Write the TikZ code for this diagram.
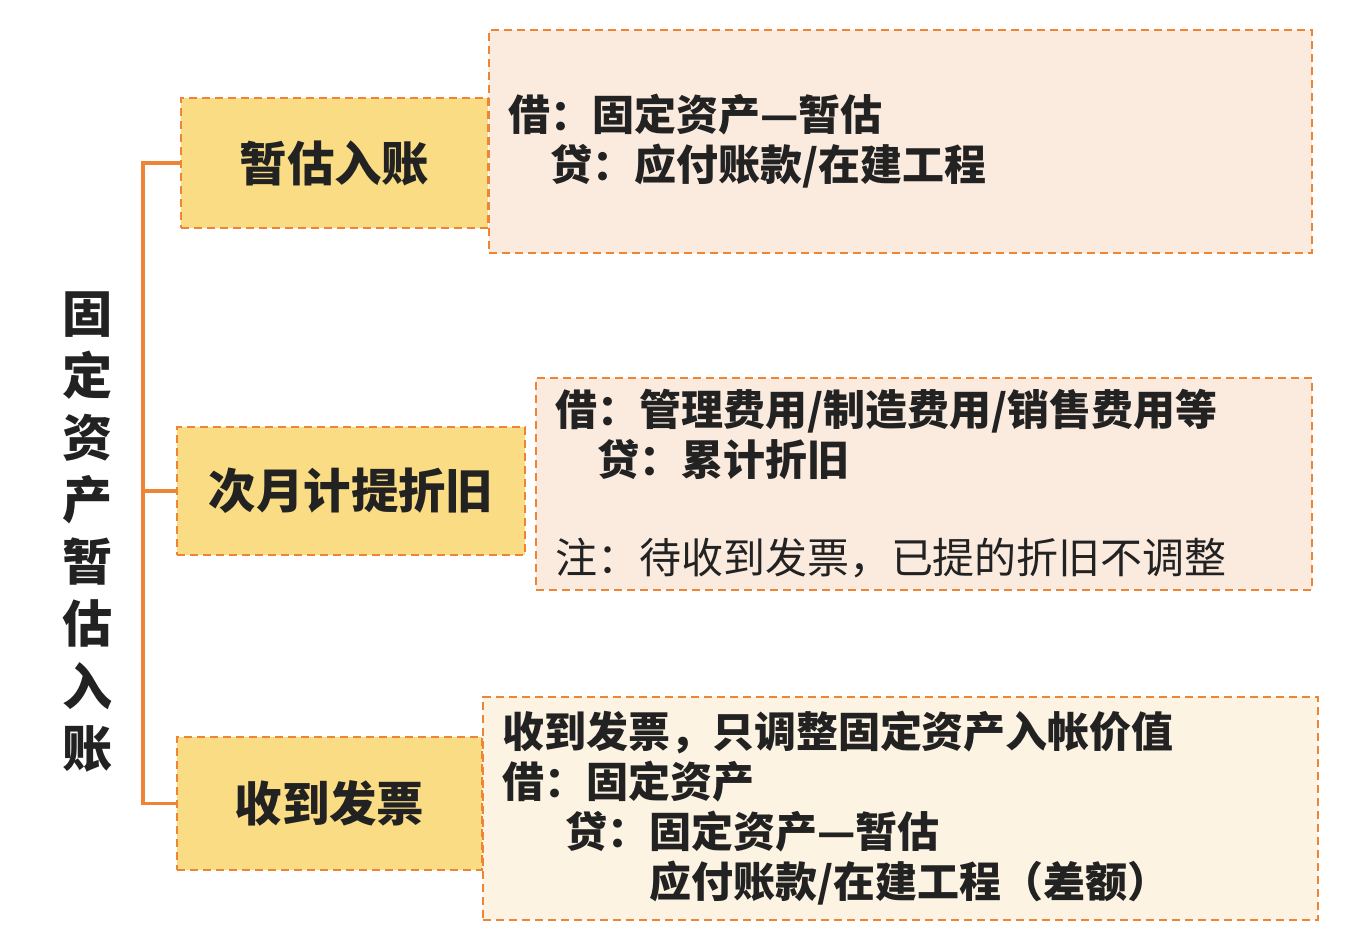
\documentclass[tikz,border=0pt]{standalone}
\usepackage{fontspec}
\setmainfont{Noto Sans CJK SC}
\definecolor{lineorange}{HTML}{EE8535}
\definecolor{boxyellow}{HTML}{F9DC84}
\definecolor{notepeach}{HTML}{FBEBDF}
\definecolor{notecream}{HTML}{FDF3E2}
\definecolor{inkgray}{HTML}{222222}
\tikzset{
  dashedge/.style={draw=lineorange, line width=1.6pt, dash pattern=on 0.16cm off 0.1cm},
  headbox/.style={dashedge, fill=boxyellow, text=inkgray, inner sep=0pt,
    font=\fontsize{27}{32}\selectfont\bfseries},
  notebox/.style={dashedge, text=inkgray, align=left, inner xsep=0.38cm, inner ysep=0pt,
    font=\fontsize{23.9}{28.45}\selectfont\bfseries},
  link/.style={draw=lineorange, line width=2pt}
}
\begin{document}
\begin{tikzpicture}[x=0.02cm, y=-0.02cm]
  \useasboundingbox (0,0) rectangle (1349,947);
  % title
  \node[text=inkgray, align=center, font=\fontsize{28.5}{35.3}\selectfont\bfseries]
    (title) at (88,532) {固\\定\\资\\产\\暂\\估\\入\\账};
  % left boxes
  \node[headbox, minimum width=6.14cm, minimum height=2.6cm] (est) at (334.5,163) {暂估入账};
  \node[headbox, minimum width=6.96cm, minimum height=2.56cm] (depr) at (351,491) {次月计提折旧};
  \node[headbox, minimum width=6.1cm, minimum height=2.66cm] (inv) at (329.5,803.5) {收到发票};
  % detail boxes
  \node[notebox, fill=notepeach, text width=15.7cm, minimum height=4.46cm] (estd) at (900.5,141.5)
    {借：固定资产—暂估\\\hspace*{1em}贷：应付账款/在建工程};
  \node[notebox, fill=notepeach, text width=14.76cm, minimum height=4.24cm] (deprd) at (924,484)
    {借：管理费用/制造费用/销售费用等\\\hspace*{1em}贷：累计折旧\\[0.96cm]
     {\mdseries 注：待收到发票，已提的折旧不调整}};
  \node[notebox, fill=notecream, text width=15.94cm, minimum height=4.46cm] (invd) at (900.5,808.5)
    {收到发票，只调整固定资产入帐价值\\借：固定资产\\\hspace*{1.5em}贷：固定资产—暂估\\
     \hspace*{3.5em}应付账款/在建工程（差额）};
  % bracket
  \coordinate (spine) at (143,491);
  \draw[link] (est.west) -| (spine) |- (inv.west);
  \draw[link] (spine) -- (depr.west);
\end{tikzpicture}
\end{document}
